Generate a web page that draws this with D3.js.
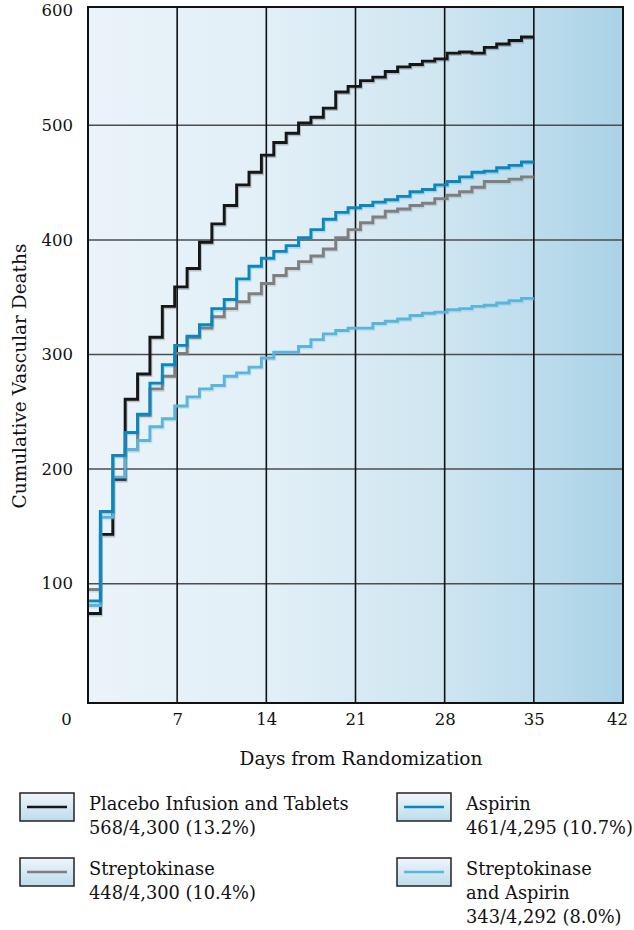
<!DOCTYPE html>
<html lang="en">
<head>
  <meta charset="utf-8">
  <title>Cumulative Vascular Deaths</title>
  <script src="https://d3js.org/d3.v7.min.js"></script>
  <style>
    body {
      margin: 0;
      background: #fff;
    }
    svg text {
      font-family: 'DejaVu Serif', 'Liberation Serif', serif;
      fill: #111;
    }
    .axis path, .axis line {
      display: none;
    }
  </style>
</head>
<body>
<div id="chart"></div>
<script>
  // values, one per step (36 steps over days 0-35)
  var placebo = [74, 143, 191, 261, 283, 315, 342, 359, 375, 398, 414, 430, 448, 459, 474, 485, 493, 502,
                 507, 515, 529, 534, 539, 542, 547, 551, 553, 556, 558, 563, 564, 563, 568, 571, 574, 577];
  var streptokinase = [95, 163, 212, 217, 247, 270, 281, 301, 315, 323, 333, 340, 346, 353, 362, 369, 375, 381,
                       386, 392, 402, 409, 415, 420, 425, 427, 430, 432, 436, 439, 442, 446, 451, 451, 453, 455];
  var aspirin = [85, 163, 212, 232, 248, 275, 291, 308, 316, 326, 340, 348, 366, 377, 384, 390, 395, 402,
                 409, 418, 424, 428, 430, 433, 435, 438, 442, 444, 448, 451, 455, 459, 460, 463, 465, 468];
  var skAspirin = [81, 158, 193, 217, 225, 237, 244, 255, 263, 270, 273, 281, 284, 289, 297, 302, 302, 307,
                   313, 318, 321, 323, 323, 327, 329, 331, 334, 336, 337, 339, 340, 342, 343, 345, 347, 349];

  var xTicks = [0, 7, 14, 21, 28, 35, 42];
  var yTicks = [100, 200, 300, 400, 500, 600];
  var lastDay = 35;

  var legendItems = [
    {lines: ["Placebo Infusion and Tablets", "568/4,300 (13.2%)"], color: "#161616"},
    {lines: ["Aspirin", "461/4,295 (10.7%)"], color: "#0c87bb"},
    {lines: ["Streptokinase", "448/4,300 (10.4%)"], color: "#7f7f7f"},
    {lines: ["Streptokinase", "and Aspirin", "343/4,292 (8.0%)"], color: "#5cb4da"}
  ];

  var series = [
    {values: placebo, color: "#161616"},
    {values: streptokinase, color: "#7f7f7f"},
    {values: skAspirin, color: "#5cb4da"},
    {values: aspirin, color: "#0c87bb"}
  ];

  var width = 634, height = 930;
  var plot = {left: 88, right: 623, top: 7, bottom: 703};

  var svg = d3.select("#chart").append("svg")
      .attr("width", width)
      .attr("height", height);

  var x = d3.scaleLinear().domain([0, 42]).range([plot.left, plot.right]);
  var y = d3.scaleLinear().domain([0, 600]).range([698.3, 10.7]);

  var defs = svg.append("defs");
  var bg = defs.append("linearGradient").attr("id", "bg")
      .attr("x1", "0%").attr("x2", "100%").attr("y1", "0%").attr("y2", "0%");
  bg.append("stop").attr("offset", "0%").attr("stop-color", "#eaf3f9");
  bg.append("stop").attr("offset", "35%").attr("stop-color", "#e1eff7");
  bg.append("stop").attr("offset", "65%").attr("stop-color", "#d0e6f1");
  bg.append("stop").attr("offset", "83%").attr("stop-color", "#bedded");
  bg.append("stop").attr("offset", "100%").attr("stop-color", "#a9d2e6");

  var box = defs.append("linearGradient").attr("id", "box")
      .attr("x1", "0%").attr("x2", "0%").attr("y1", "0%").attr("y2", "100%");
  box.append("stop").attr("offset", "0%").attr("stop-color", "#eef6fb");
  box.append("stop").attr("offset", "100%").attr("stop-color", "#bcdcec");

  // plot background
  svg.append("rect")
      .attr("x", plot.left).attr("y", plot.top)
      .attr("width", plot.right - plot.left).attr("height", plot.bottom - plot.top)
      .attr("fill", "url(#bg)");

  // horizontal grid
  svg.append("g").selectAll("line")
      .data(yTicks.filter(d => d < 600))
      .join("line")
      .attr("x1", plot.left).attr("x2", plot.right)
      .attr("y1", d => y(d)).attr("y2", d => y(d))
      .attr("stroke", "#4d4d4d").attr("stroke-width", 1.5);

  // vertical grid
  svg.append("g").selectAll("line")
      .data(xTicks.filter(d => d > 0 && d < 42))
      .join("line")
      .attr("x1", d => x(d)).attr("x2", d => x(d))
      .attr("y1", plot.top).attr("y2", plot.bottom)
      .attr("stroke", "#111").attr("stroke-width", 1.6);

  // step lines
  var line = d3.line()
      .x(d => x(d[0]))
      .y(d => y(d[1]))
      .curve(d3.curveStepAfter);

  function stepPoints(values) {
    var n = values.length;
    var pts = values.map((v, i) => [i * lastDay / n, v]);
    pts.push([lastDay, values[n - 1]]);
    return pts;
  }

  series.forEach(function(s) {
    var pts = stepPoints(s.values);
    svg.append("path")
        .datum(pts)
        .attr("d", line)
        .attr("fill", "none")
        .attr("stroke", s.color)
        .attr("stroke-opacity", 0.22)
        .attr("stroke-width", 3)
        .attr("transform", "translate(1,1.5)");
    svg.append("path")
        .datum(pts)
        .attr("d", line)
        .attr("fill", "none")
        .attr("stroke", s.color)
        .attr("stroke-width", 2.9);
  });

  // frame
  svg.append("rect")
      .attr("x", plot.left).attr("y", plot.top)
      .attr("width", plot.right - plot.left).attr("height", plot.bottom - plot.top)
      .attr("fill", "none")
      .attr("stroke", "#111").attr("stroke-width", 2);

  // y axis labels
  var yAxis = svg.append("g")
      .attr("class", "axis")
      .attr("transform", "translate(" + plot.left + ",0)")
      .call(d3.axisLeft(y).tickValues(yTicks).tickSize(0).tickPadding(15));
  yAxis.selectAll("text")
      .style("font-size", "16.5px")
      .attr("fill", "#111");

  // x axis labels
  var xAxis = svg.append("g")
      .attr("class", "axis")
      .attr("transform", "translate(0," + plot.bottom + ")")
      .call(d3.axisBottom(x).tickValues(xTicks).tickSize(0).tickPadding(10));
  xAxis.selectAll("text")
      .style("font-size", "16.5px")
      .attr("fill", "#111")
      .attr("dx", d => d === 0 ? -22 : (d === 42 ? -6 : 0));

  // axis titles
  svg.append("text")
      .attr("x", 361).attr("y", 765)
      .attr("text-anchor", "middle")
      .style("font-size", "18.5px")
      .text("Days from Randomization");

  svg.append("text")
      .attr("transform", "translate(26,376) rotate(-90)")
      .attr("text-anchor", "middle")
      .style("font-size", "18.5px")
      .text("Cumulative Vascular Deaths");

  // legend
  var legendPos = [[20, 793], [397, 793], [20, 858], [397, 858]];
  legendItems.forEach(function(item, i) {
    var g = svg.append("g")
        .attr("transform", "translate(" + legendPos[i][0] + "," + legendPos[i][1] + ")");
    g.append("rect")
        .attr("x", 0).attr("y", 0)
        .attr("width", 54).attr("height", 28)
        .attr("fill", "url(#box)")
        .attr("stroke", "#222").attr("stroke-width", 1.5);
    g.append("line")
        .attr("x1", 7).attr("x2", 47)
        .attr("y1", 14).attr("y2", 14)
        .attr("stroke", item.color).attr("stroke-width", 2.5);
    g.selectAll("text.lbl")
        .data(item.lines)
        .join("text")
        .attr("class", "lbl")
        .attr("x", 69)
        .attr("y", (d, j) => 17 + j * 24)
        .style("font-size", "17.8px")
        .text(d => d);
  });
</script>
</body>
</html>
